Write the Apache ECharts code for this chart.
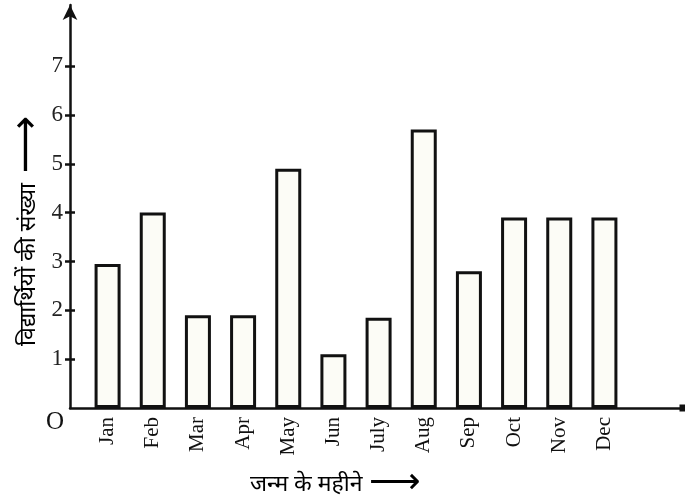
<!DOCTYPE html>
<html>
<head>
<meta charset="utf-8">
<script src="https://cdn.jsdelivr.net/npm/echarts@6/dist/echarts.min.js"></script>
<style>
html,body{margin:0;padding:0;background:#fff;}
#chart{width:685px;height:497px;}
</style>
</head>
<body>
<div id="chart"></div>
<script>
const months = ['Jan','Feb','Mar','Apr','May','Jun','July','Aug','Sep','Oct','Nov','Dec'];
const students = [2.95, 4, 1.9, 1.9, 4.9, 1.1, 1.85, 5.7, 2.8, 3.9, 3.9, 3.9];
const yTicks = [1, 2, 3, 4, 5, 6, 7];
const yTitle = 'विद्यार्थियों की संख्या';
const xTitle = 'जन्म के महीने';
const originLabel = 'O';

const ink = '#111';
const serif = '"Liberation Serif", "DejaVu Serif", serif';
const deva = '"Noto Sans", "Noto Sans Devanagari", "Lohit Devanagari", sans-serif';
const yMax = 8.25;
const gridTop = 5, gridBottom = 89;

const chart = echarts.init(document.getElementById('chart'));
chart.setOption({
  animation: false,
  backgroundColor: '#fff',
  grid: [
    {left: 70, right: 2, top: gridTop, bottom: gridBottom},
    {left: 85, right: 58, top: gridTop, bottom: gridBottom}
  ],
  xAxis: [
    {
      gridIndex: 0, type: 'value', min: 0, max: 1,
      axisLine: {show: true, lineStyle: {color: ink, width: 2.5}, symbol: ['none', 'rect'], symbolSize: [7, 7]},
      axisTick: {show: false}, axisLabel: {show: false}, splitLine: {show: false}
    },
    {
      gridIndex: 1, type: 'category', data: months,
      axisLine: {show: false}, axisTick: {show: false},
      axisLabel: {rotate: 90, margin: 9, fontFamily: serif, fontSize: 21, color: ink}
    }
  ],
  yAxis: [
    {
      gridIndex: 0, type: 'value', position: 'left', min: 0, max: yMax, interval: 1,
      axisLine: {show: true, lineStyle: {color: ink, width: 2.5}, symbol: ['none', 'arrow'], symbolSize: [11, 15]},
      axisTick: {show: true, length: 5, customValues: yTicks, lineStyle: {color: ink, width: 2.5}},
      axisLabel: {customValues: yTicks, margin: 7, fontFamily: serif, fontSize: 23, color: '#222'},
      splitLine: {show: false}
    },
    {
      gridIndex: 0, type: 'value', position: 'left', offset: 0, min: 0, max: yMax, interval: 1,
      axisLine: {show: true, lineStyle: {color: ink, width: 0, opacity: 0}},
      axisTick: {show: true, inside: true, length: 5, customValues: yTicks, lineStyle: {color: ink, width: 2.5, opacity: 1}},
      axisLabel: {show: false}, splitLine: {show: false}
    },
    {
      gridIndex: 1, type: 'value', min: 0, max: yMax, show: false
    }
  ],
  series: [{
    type: 'bar', xAxisIndex: 1, yAxisIndex: 2,
    data: students, barWidth: 26,
    itemStyle: {color: '#fcfcf6', borderColor: ink, borderWidth: 3}
  }],
  graphic: [
    {type: 'text', left: 46, top: 410, style: {text: originLabel, font: '25px ' + serif, fill: ink}},
    {type: 'text', x: 8, y: 346, rotation: Math.PI / 2,
     style: {
       text: '{t|' + yTitle + '}   {a|\u27F6}',
       textVerticalAlign: 'top',
       rich: {
         t: {fontFamily: deva, fontSize: 23, color: '#222'},
         a: {fontFamily: '"DejaVu Sans", sans-serif', fontSize: 40, color: '#222'}
       }
     }},
    {type: 'text', left: 250, top: 466,
     style: {
       text: '{t|' + xTitle + '}  {a|\u27F6}',
       rich: {
         t: {fontFamily: deva, fontSize: 23, color: '#222'},
         a: {fontFamily: '"DejaVu Sans", sans-serif', fontSize: 36, color: '#222'}
       }
     }}
  ]
});
</script>
</body>
</html>
